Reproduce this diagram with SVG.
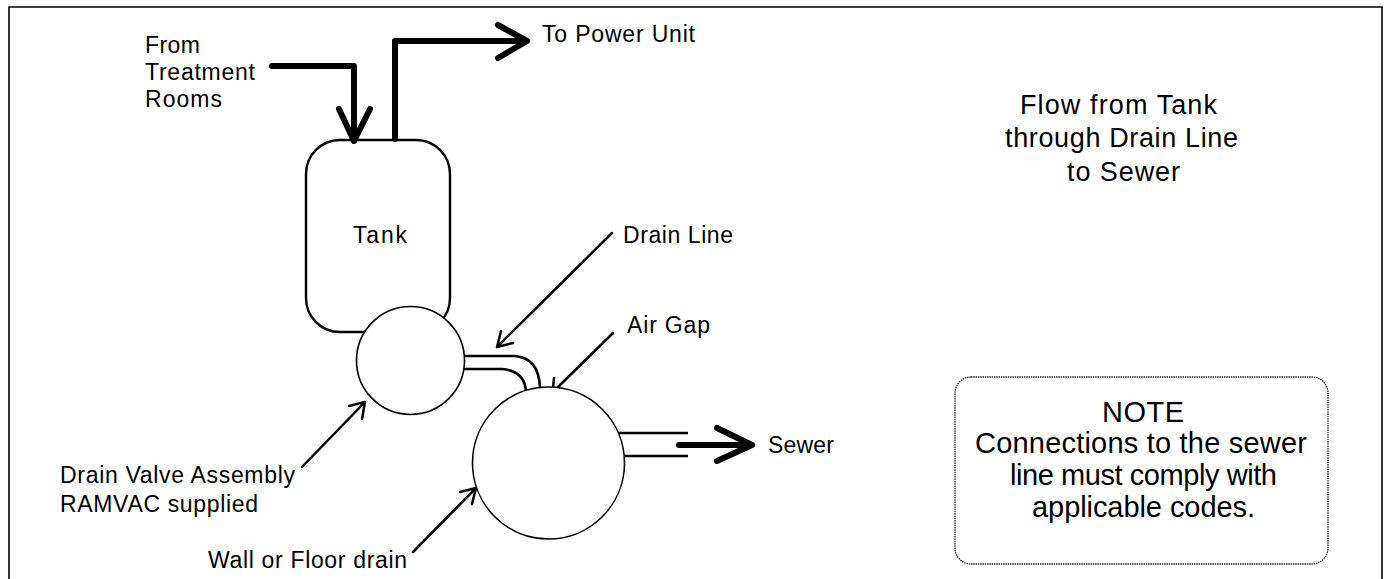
<svg xmlns="http://www.w3.org/2000/svg" width="1384" height="579" viewBox="0 0 1384 579">
<style>
text{font-family:"Liberation Sans",Arial,sans-serif;fill:#000}
.lbl{font-size:23px}
.ttl{font-size:27px}
.note{font-size:29px}
.thick{fill:none;stroke:#000;stroke-width:6;stroke-linecap:round;stroke-linejoin:round}
.lead{fill:none;stroke:#000;stroke-width:2.5;stroke-linecap:round;stroke-linejoin:round}
.pipe{fill:none;stroke:#000;stroke-width:2.6}
.shape{fill:#fff;stroke:#000;stroke-width:1.6}
</style>
<rect x="0" y="0" width="1384" height="579" fill="#fff"/>
<path d="M9,590 V7 H1382 V590" fill="none" stroke="#000" stroke-width="1.6"/>

<g id="tank">
<rect x="306" y="140" width="144" height="192" rx="34" ry="34" fill="#fff" stroke="#000" stroke-width="2.4"/>
<text class="lbl" x="353" y="243" textLength="54" lengthAdjust="spacing">Tank</text>
</g>

<g id="connectors">
<path class="thick" d="M272,66 H354 V141 M339,109 L354,141 L370,109"/>
<path class="thick" d="M395,139 V41 H527 M498,25 L527,41 L498,58"/>
<path class="pipe" d="M464,356 H515 Q539,358 540,388"/>
<path class="pipe" d="M464,369 H502 Q525,371 526,392"/>
<path class="pipe" d="M618,433 H688 M624,456 H688"/>
<path class="thick" d="M679,445 H752 M717,428 L752,445 L717,461"/>
<path class="lead" d="M612,233 L497,347 M501,331 L497,347 L513,343"/>
<path class="lead" d="M613,333 L557,388 M554,378 L553,388"/>
<path class="lead" d="M302,467 L365,402 M349,406 L365,402 L362,419"/>
<path class="lead" d="M413,552 L476,488 M460,492 L476,488 L472,504"/>
</g>

<g id="valve">
<circle class="shape" cx="410.5" cy="360.5" r="54"/>
</g>

<g id="floor-drain">
<circle class="shape" cx="548.5" cy="463" r="76"/>
</g>

<g id="labels">
<text class="lbl" x="145" y="53" textLength="55" lengthAdjust="spacing">From</text>
<text class="lbl" x="145" y="80" textLength="110" lengthAdjust="spacing">Treatment</text>
<text class="lbl" x="145" y="107" textLength="77" lengthAdjust="spacing">Rooms</text>
<text class="lbl" x="542" y="42" textLength="153" lengthAdjust="spacing">To Power Unit</text>
<text class="lbl" x="623" y="243" textLength="110" lengthAdjust="spacing">Drain Line</text>
<text class="lbl" x="627" y="333" textLength="83" lengthAdjust="spacing">Air Gap</text>
<text class="lbl" x="768" y="453" textLength="66" lengthAdjust="spacing">Sewer</text>
<text class="lbl" x="60" y="483" textLength="235" lengthAdjust="spacing">Drain Valve Assembly</text>
<text class="lbl" x="60" y="512" textLength="198" lengthAdjust="spacing">RAMVAC supplied</text>
<text class="lbl" x="208" y="568" textLength="199" lengthAdjust="spacing">Wall or Floor drain</text>
</g>

<g id="title">
<text class="ttl" x="1020" y="114" textLength="197" lengthAdjust="spacing">Flow from Tank</text>
<text class="ttl" x="1005" y="147" textLength="233" lengthAdjust="spacing">through Drain Line</text>
<text class="ttl" x="1067" y="181" textLength="113" lengthAdjust="spacing">to Sewer</text>
</g>

<g id="note">
<rect x="955" y="377" width="373" height="187" rx="16" ry="16" fill="none" stroke="#222" stroke-width="1.3" stroke-dasharray="1.5 0.8"/>
<text class="note" x="1102" y="422" textLength="82" lengthAdjust="spacing">NOTE</text>
<text class="note" x="975" y="453" textLength="332" lengthAdjust="spacing">Connections to the sewer</text>
<text class="note" x="1010" y="485" textLength="267" lengthAdjust="spacing">line must comply with</text>
<text class="note" x="1032" y="517" textLength="223" lengthAdjust="spacing">applicable codes.</text>
</g>
</svg>
